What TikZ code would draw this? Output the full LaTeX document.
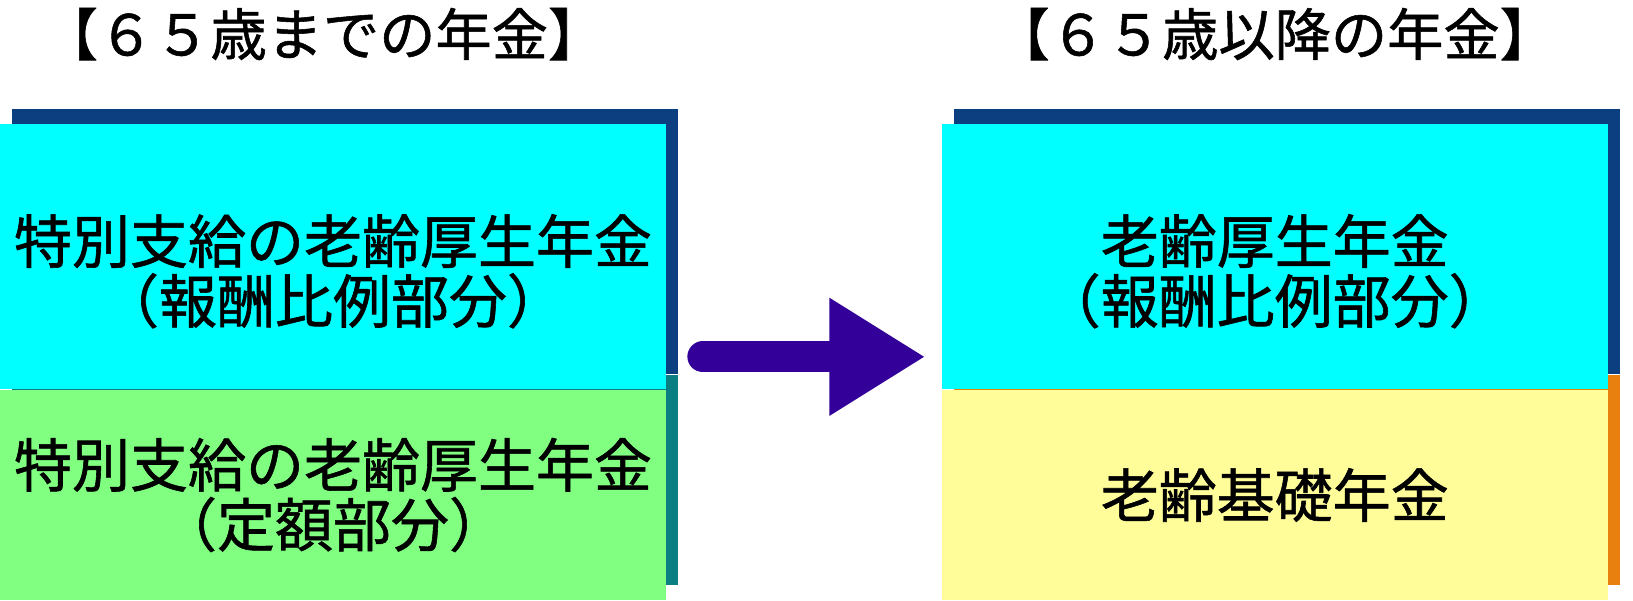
\documentclass[tikz,border=0pt]{standalone}
\usepackage{fontspec}
\setmainfont{Noto Sans CJK JP}[FakeBold=1]
\usepackage{tikz}
\usetikzlibrary{positioning, arrows.meta, shadows}
\definecolor{skyfill}{HTML}{00FFFF}
\definecolor{greenfill}{HTML}{80FF80}
\definecolor{yellowfill}{HTML}{FFFC9A}
\definecolor{navyshadow}{HTML}{0C3F80}
\definecolor{tealshadow}{HTML}{0A7F82}
\definecolor{orangeshadow}{HTML}{E8800F}
\definecolor{arrowviolet}{HTML}{330099}

\begin{document}
\begin{tikzpicture}
			[node distance=5.5cm,
			block/.style={rectangle, inner sep=0pt, minimum width=13.32cm},
			backdrop/.style={drop shadow={shadow xshift=0.24cm, shadow yshift=0.3cm, opacity=1, fill=#1}},
			heading/.style={text centered, font=\fontsize{32}{34}\selectfont},
			boxtext/.style={align=center, font=\fontsize{33}{34}\selectfont}]
			\useasboundingbox (0,0) rectangle (32.66,12);

			% nodes %
			\node[block, fill=greenfill, minimum height=4.2cm, backdrop=tealshadow] (oldbase) at (6.66,2.1) {};
			\node[block, fill=yellowfill, minimum height=4.2cm, backdrop=orangeshadow, right=of oldbase] (newbase) {};
			\node[block, fill=skyfill, minimum height=5.3cm, backdrop=navyshadow, above=0pt of oldbase] (oldtop) {};
			\node[block, fill=skyfill, minimum height=5.3cm, backdrop=navyshadow, above=0pt of newbase] (newtop) {};

			\node[heading, above=1.15cm of oldtop, xshift=-0.2cm] (oldtitle) {【６５歳までの年金】};
			\node[heading, above=1.15cm of newtop] (newtitle) {【６５歳以降の年金】};

			\node[boxtext] (oldtoptext) at ([yshift=-0.29cm]oldtop.center) {特別支給の老齢厚生年金\\（報酬比例部分）};
			\node[boxtext] (oldbasetext) at (oldbase.center) {特別支給の老齢厚生年金\\（定額部分）};
			\node[boxtext] (newtoptext) at ([yshift=-0.29cm]newtop.center) {老齢厚生年金\\（報酬比例部分）};
			\node[boxtext] (newbasetext) at (newbase.center) {老齢基礎年金};

			% edges %
			\draw[-{Triangle[length=1.92cm, width=2.22cm]}, line width=0.62cm, line cap=round, draw=arrowviolet, fill=arrowviolet,
				shorten <=0.73cm, shorten >=0.32cm] ([yshift=-2cm]oldtop.east) -- ([yshift=-2cm]newtop.west);
\end{tikzpicture}
\end{document}
